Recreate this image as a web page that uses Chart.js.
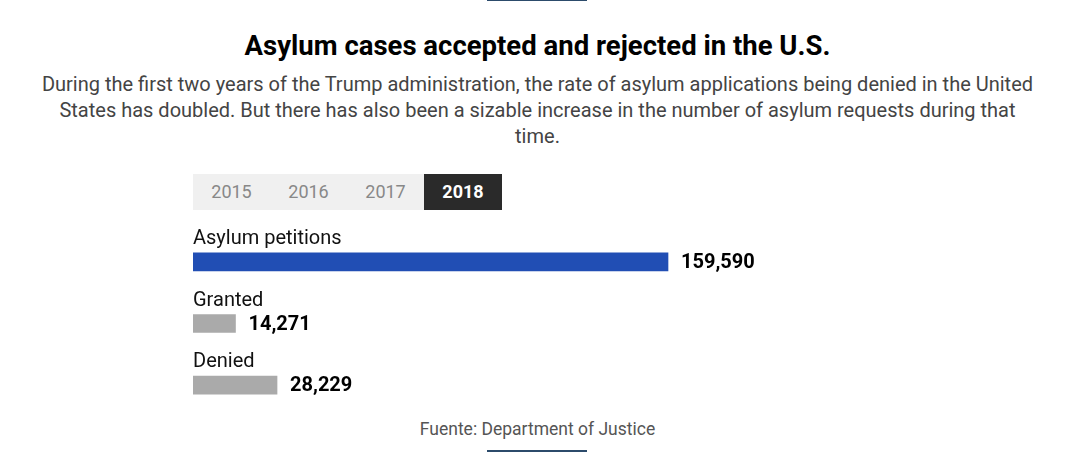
<!DOCTYPE html>
<html>
<head>
<meta charset="utf-8">
<script src="https://cdn.jsdelivr.net/npm/chart.js@4/dist/chart.umd.min.js"></script>
<style>
  html, body { margin:0; padding:0; background:#fff; width:1075px; height:472px; overflow:hidden; font-family: Roboto, "Noto Sans", sans-serif; }
  .rule { position:absolute; left:487px; width:100px; height:2px; background:#2c4b6b; }
  #title { position:absolute; left:0; width:1075px; top:29px; text-align:center; font-weight:700; font-size:27.5px; color:#000; line-height:34px; }
  #sub { position:absolute; left:39px; width:997px; top:71px; text-align:center; font-size:20px; color:#444; line-height:26px; }
  #tabs { position:absolute; left:193px; top:174px; height:36px; width:309px; background:#f0f0f0; display:flex; }
  .tab { width:77px; text-align:center; line-height:36px; font-size:18px; color:#888; }
  .tab.on { background:#2a2a2a; color:#fff; font-weight:700; width:78px; }
  #wrap { position:absolute; left:193px; top:206px; width:600px; height:210px; }
  #foot { position:absolute; left:0; width:1075px; top:418px; text-align:center; font-size:17.5px; color:#555; line-height:22px; }
</style>
</head>
<body>
<div class="rule" style="top:0px;height:1px"></div>
<div id="title">Asylum cases accepted and rejected in the U.S.</div>
<div id="sub">During the first two years of the Trump administration, the rate of asylum applications being denied in the United States has doubled. But there has also been a sizable increase in the number of asylum requests during that time.</div>
<div id="tabs"></div>
<div id="wrap"><canvas id="c" width="600" height="210"></canvas></div>
<div id="foot">Fuente: Department of Justice</div>
<div class="rule" style="top:450px;height:2px"></div>
<script>
const years = ["2015", "2016", "2017", "2018"];
const activeYear = "2018";
const categories = ["Asylum petitions", "Granted", "Denied"];
const values2018 = [159590, 14271, 28229];
const barColors = ["#214eb4", "#aaaaaa", "#aaaaaa"];

const tabs = document.getElementById('tabs');
years.forEach(y => {
  const d = document.createElement('div');
  d.className = 'tab' + (y === activeYear ? ' on' : '');
  d.textContent = y;
  tabs.appendChild(d);
});

const labelPlugin = {
  id: 'labels',
  afterDatasetsDraw(chart) {
    const ctx = chart.ctx;
    const meta = chart.getDatasetMeta(0);
    const xs = chart.scales.x;
    ctx.save();
    meta.data.forEach((bar, i) => {
      const h = 18;
      ctx.fillStyle = '#111';
      ctx.font = '20px Roboto';
      ctx.textAlign = 'left';
      ctx.textBaseline = 'alphabetic';
      ctx.fillText(categories[i], xs.left, bar.y - h/2 - 9);
      ctx.fillStyle = '#000';
      ctx.font = 'bold 20px Roboto';
      ctx.textBaseline = 'middle';
      ctx.fillText(values2018[i].toLocaleString('en-US'), bar.x + 13, bar.y + 1);
    });
    ctx.restore();
  }
};

new Chart(document.getElementById('c'), {
  type: 'bar',
  data: {
    labels: categories,
    datasets: [{ data: values2018, backgroundColor: barColors, barThickness: 18, borderWidth: 0 }]
  },
  options: {
    indexAxis: 'y',
    responsive: false,
    animation: false,
    layout: { padding: { top: 25, left: 0, right: 0, bottom: 0 } },
    plugins: { legend: { display: false }, tooltip: { enabled: false } },
    scales: {
      x: { display: false, min: 0, max: 159590 * 600 / 475 },
      y: { display: false }
    }
  },
  plugins: [labelPlugin]
});
</script>
</body>
</html>
